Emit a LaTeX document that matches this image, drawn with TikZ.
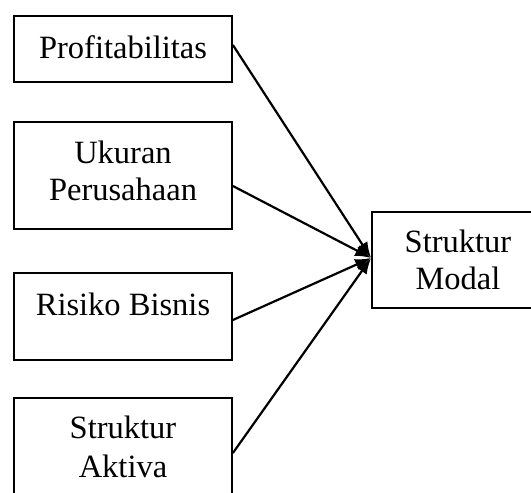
\documentclass[tikz,border=0pt]{standalone}
\usepackage{fontspec}
\setmainfont{Liberation Serif}
\usetikzlibrary{arrows.meta}
\tikzset{
  box/.style={draw=black, line width=1.8pt, fill=white, inner sep=0pt},
  txt/.style={anchor=base, inner sep=0pt, font=\fontsize{32.5}{38}\selectfont},
  link/.style={line width=2.2pt, -{Latex[length=16pt,width=12pt]}}
}
\begin{document}
\begin{tikzpicture}[x=1pt,y=-1pt]
\useasboundingbox (0,0) rectangle (531,493);
\clip (0,0) rectangle (531,493);
% boxes
\node[box, minimum width=218pt, minimum height=66pt] (p) at (123,49) {};
\node[box, minimum width=218pt, minimum height=107pt] (u) at (123,175.5) {};
\node[box, minimum width=218pt, minimum height=87pt] (r) at (123,316.5) {};
\node[box, minimum width=218pt, minimum height=107pt] (a) at (123,451.5) {};
\node[box, minimum width=190pt, minimum height=96pt] (m) at (467,260) {};
% texts
\node[txt] (pt) at (123,58) {Profitabilitas};
\node[txt] (ut1) at (123,163) {Ukuran};
\node[txt] (ut2) at (123,200) {Perusahaan};
\node[txt] (rt) at (123,315) {Risiko Bisnis};
\node[txt] (at1) at (123,438.5) {Struktur};
\node[txt] (at2) at (123,477) {Aktiva};
\node[txt] (mt1) at (458,252) {Struktur};
\node[txt] (mt2) at (458,289.5) {Modal};
% connectors
\draw[link] ([yshift=4pt]p.east) -- ([yshift=2pt]m.west);
\draw[link] ([yshift=-10.5pt]u.east) -- ([yshift=2pt]m.west);
\draw[link] ([yshift=-3.5pt]r.east) -- ([yshift=2pt]m.west);
\draw[link] ([yshift=-1.5pt]a.east) -- ([yshift=2pt]m.west);
\end{tikzpicture}
\end{document}
